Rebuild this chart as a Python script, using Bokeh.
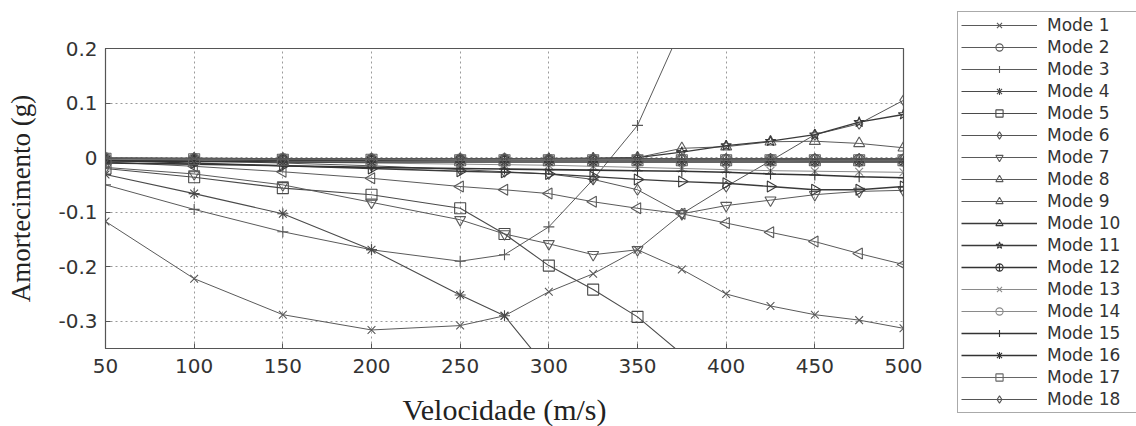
import math
from bokeh.plotting import figure
from bokeh.layouts import row
from bokeh.models import (Legend, LegendItem, FixedTicker, NumeralTickFormatter, Range1d)
from bokeh.embed import file_html
from bokeh.resources import INLINE

nan = float("nan")

# ---------------- data ----------------
velocity = [50, 100, 150, 200, 250, 275, 300, 325, 350, 375, 400, 425, 450, 475, 500]
mode_names = ["Mode %d" % i for i in range(1, 19)]

mode1 = [-0.117, -0.222, -0.288, -0.316, -0.308, -0.290, -0.246, -0.213, -0.169, -0.205, -0.250, -0.272, -0.288, -0.298, -0.313]
mode2 = [-0.002, -0.003, -0.003, -0.004, -0.004, -0.004, -0.004, -0.004, -0.004, -0.004, -0.004, -0.004, -0.004, -0.004, -0.004]
mode3 = [-0.050, -0.095, -0.136, -0.169, -0.190, -0.178, -0.127, -0.040, 0.059, 0.240, nan, nan, nan, nan, nan]
mode4 = [-0.031, -0.066, -0.103, -0.169, -0.252, -0.290, -0.390, nan, nan, nan, nan, nan, nan, nan, nan]
mode5 = [-0.020, -0.036, -0.056, -0.068, -0.093, -0.140, -0.198, -0.242, -0.292, -0.360, nan, nan, nan, nan, nan]
mode6 = [-0.003, -0.006, -0.010, -0.015, -0.022, -0.026, -0.030, -0.040, -0.059, -0.103, -0.053, -0.006, 0.042, 0.062, 0.105]
mode7 = [-0.018, -0.030, -0.050, -0.082, -0.114, -0.140, -0.158, -0.178, -0.169, -0.103, -0.088, -0.078, -0.068, -0.062, -0.060]
mode8 = [-0.001, -0.002, -0.002, -0.003, -0.003, -0.003, -0.003, -0.002, 0.000, 0.017, 0.020, 0.029, 0.030, 0.026, 0.018]
mode9 = [-0.008, -0.016, -0.026, -0.038, -0.053, -0.059, -0.066, -0.081, -0.093, -0.103, -0.120, -0.137, -0.154, -0.176, -0.196]
mode10 = [-0.005, -0.010, -0.015, -0.020, -0.025, -0.027, -0.030, -0.035, -0.040, -0.044, -0.047, -0.053, -0.059, -0.059, -0.053]
mode11 = [-0.001, -0.002, -0.002, -0.002, -0.002, -0.002, -0.002, -0.001, 0.000, 0.010, 0.022, 0.030, 0.042, 0.065, 0.079]
mode12 = [-0.004, -0.005, -0.005, -0.005, -0.005, -0.005, -0.005, -0.005, -0.005, -0.005, -0.005, -0.005, -0.005, -0.005, -0.005]
mode13 = [-0.003, -0.005, -0.008, -0.010, -0.012, -0.013, -0.014, -0.016, -0.018, -0.020, -0.022, -0.024, -0.025, -0.026, -0.027]
mode14 = [-0.001, -0.002, -0.002, -0.003, -0.003, -0.003, -0.004, -0.004, -0.004, -0.005, -0.005, -0.005, -0.006, -0.006, -0.006]
mode15 = [-0.010, -0.012, -0.015, -0.018, -0.020, -0.021, -0.022, -0.023, -0.024, -0.025, -0.027, -0.030, -0.032, -0.035, -0.037]
mode16 = [-0.006, -0.007, -0.008, -0.008, -0.008, -0.008, -0.008, -0.008, -0.008, -0.008, -0.008, -0.008, -0.008, -0.008, -0.008]
mode17 = [-0.002, -0.003, -0.004, -0.004, -0.005, -0.005, -0.005, -0.005, -0.005, -0.005, -0.005, -0.005, -0.005, -0.005, -0.005]
mode18 = [-0.001, -0.001, -0.002, -0.002, -0.002, -0.002, -0.002, -0.002, -0.002, -0.002, -0.002, -0.002, -0.002, -0.002, -0.002]

modes = [mode1, mode2, mode3, mode4, mode5, mode6, mode7, mode8, mode9,
         mode10, mode11, mode12, mode13, mode14, mode15, mode16, mode17, mode18]

x_ticks = [50, 100, 150, 200, 250, 300, 350, 400, 450, 500]
y_ticks = [-0.3, -0.2, -0.1, 0.0, 0.1, 0.2]

# ---------------- styles ----------------
HALF_PI = math.pi / 2
markers = [("x", 0), ("circle", 0), ("cross", 0), ("asterisk", 0), ("square", 0),
           ("diamond", 0), ("inverted_triangle", 0), ("triangle", 0),
           ("triangle", HALF_PI), ("triangle", -HALF_PI), ("star", 0), ("circle_cross", 0),
           ("x", 0), ("circle", 0), ("cross", 0), ("asterisk", 0), ("square", 0), ("diamond", 0)]
colors = ["#5a5a5a", "#5a5a5a", "#5a5a5a", "#4a4a4a", "#4a4a4a", "#555555", "#5a5a5a",
          "#5a5a5a", "#5a5a5a", "#3a3a3a", "#3a3a3a", "#333333", "#8a8a8a", "#8a8a8a",
          "#333333", "#333333", "#666666", "#555555"]
widths = [1.0, 1.0, 1.0, 1.1, 1.1, 1.0, 1.0, 1.0, 1.0, 1.3, 1.3, 1.6, 1.0, 1.0,
          1.6, 1.6, 1.2, 1.2]

FRAME_L, FRAME_W, FRAME_T, FRAME_H = 105, 798, 48, 300
MAIN_W = 953

p = figure(output_backend="svg", toolbar_location=None,
           width=MAIN_W, height=426,
           x_range=Range1d(50, 500), y_range=Range1d(-0.35, 0.2))
p.frame_width = FRAME_W
p.frame_height = FRAME_H
p.min_border_left = FRAME_L
p.min_border_right = MAIN_W - FRAME_L - FRAME_W
p.min_border_top = FRAME_T
p.min_border_bottom = 426 - FRAME_T - FRAME_H
p.background_fill_color = "white"
p.border_fill_color = "white"
p.outline_line_color = "#555555"
p.outline_line_width = 1.2

for ax in (p.xaxis[0], p.yaxis[0]):
    ax.axis_line_color = "#555555"
    ax.major_tick_in = 5
    ax.major_tick_out = 0
    ax.minor_tick_line_color = None
    ax.major_tick_line_color = "#555555"
    ax.major_label_text_font = "DejaVu Sans"
    ax.major_label_text_font_size = "20px"
    ax.major_label_text_color = "#333333"
    ax.axis_label_text_font = "Liberation Serif"
    ax.axis_label_text_font_style = "normal"
    ax.axis_label_text_color = "#222222"

p.xaxis.axis_label_text_font_size = "30px"
p.yaxis.axis_label_text_font_size = "27px"
p.xaxis.ticker = FixedTicker(ticks=x_ticks)
p.yaxis.ticker = FixedTicker(ticks=y_ticks)
p.yaxis.formatter = NumeralTickFormatter(format="0.[0]")
p.xaxis.axis_label = "Velocidade (m/s)"
p.yaxis.axis_label = "Amortecimento (g)"
p.xaxis.major_label_standoff = 10
p.xaxis.axis_label_standoff = 17
p.yaxis.major_label_standoff = 8
p.yaxis.axis_label_standoff = 19

p.xgrid.ticker = FixedTicker(ticks=x_ticks)
p.ygrid.ticker = FixedTicker(ticks=y_ticks)
for g in (p.xgrid[0], p.ygrid[0]):
    g.grid_line_color = "#9a9a9a"
    g.grid_line_dash = "2 3"
    g.grid_line_width = 1

for ys, (mk, ang), c, w in zip(modes, markers, colors, widths):
    p.line(velocity, ys, line_color=c, line_width=w)
    p.scatter(velocity, ys, marker=mk, angle=ang, size=11,
              line_color=c, line_width=1.1, fill_alpha=0)

# ---------------- legend panel ----------------
LEG_W = 1136 - MAIN_W
q = figure(output_backend="svg", toolbar_location=None, width=LEG_W, height=426,
           x_range=Range1d(0, 1), y_range=Range1d(0, 1))
q.frame_width = LEG_W
q.frame_height = 426
q.min_border = 0
q.min_border_left = 0
q.min_border_right = 0
q.min_border_top = 0
q.min_border_bottom = 0
q.axis.visible = False
q.grid.visible = False
q.outline_line_color = None
q.background_fill_color = "white"
q.border_fill_color = "white"

items = []
for name, (mk, ang), c, w in zip(mode_names, markers, colors, widths):
    lr = q.line([-5, -4], [-5, -4], line_color=c, line_width=w)
    sr = q.scatter([-5], [-5], marker=mk, angle=ang, size=10,
                   line_color=c, line_width=1.1, fill_alpha=0)
    items.append(LegendItem(label=name, renderers=[lr, sr]))

legend = Legend(items=items, location=(957 - MAIN_W, 426 - 413))
legend.label_text_font = "DejaVu Sans"
legend.label_text_font_size = "17px"
legend.label_text_color = "#333333"
legend.glyph_width = 76
legend.glyph_height = 18
legend.label_height = 18
legend.label_width = 88
legend.spacing = 2
legend.padding = 3
legend.margin = 0
legend.label_standoff = 10
legend.border_line_color = "#555555"
legend.border_line_width = 1
legend.background_fill_color = "white"
legend.background_fill_alpha = 1
q.add_layout(legend, "center")

layout = row(p, q)
open("out.html", "w").write(file_html(layout, INLINE))
